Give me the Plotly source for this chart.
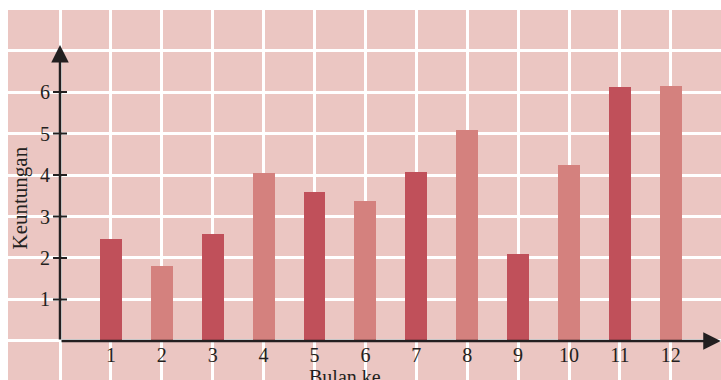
import plotly.graph_objects as go

months = [1, 2, 3, 4, 5, 6, 7, 8, 9, 10, 11, 12]
month_labels = ["1", "2", "3", "4", "5", "6", "7", "8", "9", "10", "11", "12"]
profit = [2.46, 1.81, 2.58, 4.05, 3.59, 3.37, 4.07, 5.08, 2.10, 4.24, 6.12, 6.14]
y_ticks = [1, 2, 3, 4, 5, 6]
y_tick_labels = ["1", "2", "3", "4", "5", "6"]
x_title = "Bulan ke"
y_title = "Keuntungan"

DARK = "#C0505A"
LIGHT = "#D4817E"
BG = "#EBC6C2"
INK = "#231F20"
FONT = "Liberation Serif"

W, H = 721, 380
ML, MT = 8, 10
PW, PH = W - ML, H - MT
X_MIN, X_MAX = -1.022, 12.986
Y_MIN, Y_MAX = -0.94, 7.976

colors = [DARK if i % 2 == 0 else LIGHT for i in range(len(months))]

fig = go.Figure()
fig.add_trace(go.Bar(x=months, y=profit, marker=dict(color=colors, line=dict(width=0)),
                     width=0.43, showlegend=False, hoverinfo="x+y"))
# y-axis tick marks crossing the axis
fig.add_trace(go.Scatter(x=[0] * len(y_ticks), y=y_ticks, mode="markers",
                         marker=dict(symbol="line-ew", size=10, line=dict(width=2, color=INK)),
                         showlegend=False, hoverinfo="skip", cliponaxis=False))

x_pos = (0 - X_MIN) / (X_MAX - X_MIN)
y_pos = (0 - Y_MIN) / (Y_MAX - Y_MIN)

fig.update_layout(
    width=W, height=H,
    margin=dict(l=ML, r=0, t=MT, b=0, pad=0),
    paper_bgcolor="white",
    plot_bgcolor=BG,
    bargap=0,
    font=dict(family=FONT, size=20, color=INK),
    xaxis=dict(range=[X_MIN, X_MAX], tickvals=[0] + months, ticktext=[""] + month_labels,
               showgrid=True, gridcolor="white", gridwidth=3, zeroline=False,
               showline=False, ticks="", anchor="free", position=y_pos,
               ticklabelstandoff=0, tickfont=dict(family=FONT, size=20, color=INK)),
    yaxis=dict(range=[Y_MIN, Y_MAX], tickvals=[0] + y_ticks + [7], ticktext=[""] + y_tick_labels + [""],
               showgrid=True, gridcolor="white", gridwidth=3, zeroline=False,
               showline=False, ticks="", anchor="free", position=x_pos,
               ticklabelstandoff=10, tickfont=dict(family=FONT, size=20, color=INK)),
)

# axes with arrowheads
fig.add_annotation(x=X_MAX - 0.005, y=0, ax=0, ay=0, xref="x", yref="y", axref="x", ayref="y",
                   text="", showarrow=True, arrowhead=2, arrowsize=1.4, arrowwidth=2.5,
                   arrowcolor=INK, standoff=0, startstandoff=0)
fig.add_annotation(x=0, y=7.13, ax=0, ay=0, xref="x", yref="y", axref="x", ayref="y",
                   text="", showarrow=True, arrowhead=2, arrowsize=1.4, arrowwidth=2.5,
                   arrowcolor=INK, standoff=0, startstandoff=0)

fig.add_annotation(text=x_title, xref="paper", yref="paper",
                   x=(345 - ML) / PW, y=(H - 364) / PH, xanchor="center", yanchor="top",
                   showarrow=False, font=dict(family=FONT, size=20, color=INK))
fig.add_annotation(text=y_title, xref="paper", yref="paper", textangle=-90,
                   x=(19.5 - ML) / PW, y=(H - 198) / PH, xanchor="center", yanchor="middle",
                   showarrow=False, font=dict(family=FONT, size=21, color=INK))

fig.write_html("out.html")
